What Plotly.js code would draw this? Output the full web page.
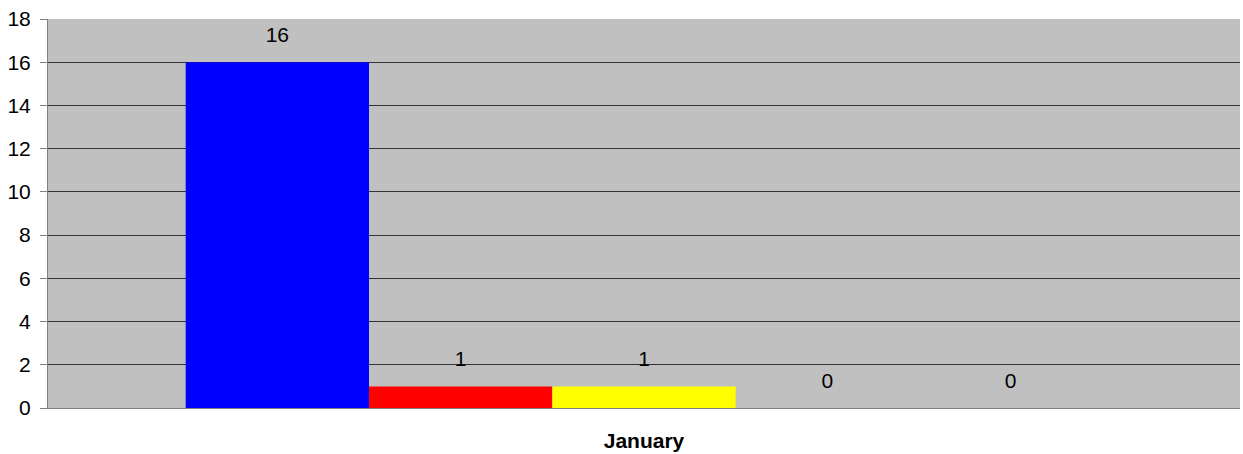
<!DOCTYPE html>
<html><head><meta charset="utf-8">
<script src="https://cdn.plot.ly/plotly-3.0.1.min.js"></script>
<style>html,body{margin:0;padding:0;background:#fff}#chart{width:1243px;height:454px}</style>
</head><body><div id="chart"></div>
<script>
const categories = ["January"];
const seriesNames = ["Series 1", "Series 2", "Series 3", "Series 4", "Series 5"];
const seriesValues = [[16], [1], [1], [0], [0]];
const seriesColors = ["#0000FF", "#FF0000", "#FFFF00", "#00FF00", "#FF00FF"];
const yTicks = [0, 2, 4, 6, 8, 10, 12, 14, 16, 18];

const FONT = 'Liberation Sans, Arial, sans-serif';

const barTraces = seriesNames.map((n, i) => ({
  type: 'bar', name: n, x: categories, y: seriesValues[i],
  offsetgroup: 'g' + i,
  marker: {color: seriesColors[i], line: {width: 0}},
  hoverinfo: 'none'
}));

const labelTraces = seriesNames.map((n, i) => ({
  type: 'scatter', mode: 'markers+text', name: n + ' label', x: categories, y: seriesValues[i],
  offsetgroup: 'g' + i,
  marker: {size: 22, opacity: 0, color: seriesColors[i]},
  text: seriesValues[i].map(v => String(v)),
  textposition: 'top center', cliponaxis: false,
  textfont: {family: FONT, size: 21, color: '#000'},
  hoverinfo: 'none', showlegend: false
}));

const layout = {
  width: 1243, height: 454,
  margin: {l: 48, r: 3, t: 19, b: 46},
  paper_bgcolor: '#FFFFFF', plot_bgcolor: '#C0C0C0',
  showlegend: false, barmode: 'group', bargap: 0.231, bargroupgap: 0,
  scattermode: 'group', scattergap: 0.231,
  font: {family: FONT, color: '#000'},
  xaxis: {
    type: 'category', showgrid: false, showline: true, linecolor: '#808080', linewidth: 1,
    ticks: '', ticklabelstandoff: 14,
    tickfont: {family: FONT, size: 21, color: '#000', weight: 'bold'}
  },
  yaxis: {
    range: [0, 18], tickvals: yTicks, ticktext: yTicks.map(String),
    showgrid: true, gridcolor: '#333333', gridwidth: 1,
    showline: true, linecolor: '#808080', linewidth: 1,
    ticks: 'outside', ticklen: 7, tickcolor: '#808080',
    ticklabelstandoff: 5,
    zeroline: false,
    tickfont: {family: FONT, size: 21, color: '#000'}
  }
};
Plotly.newPlot('chart', barTraces.concat(labelTraces), layout, {displayModeBar: false, staticPlot: true});
</script></body></html>
